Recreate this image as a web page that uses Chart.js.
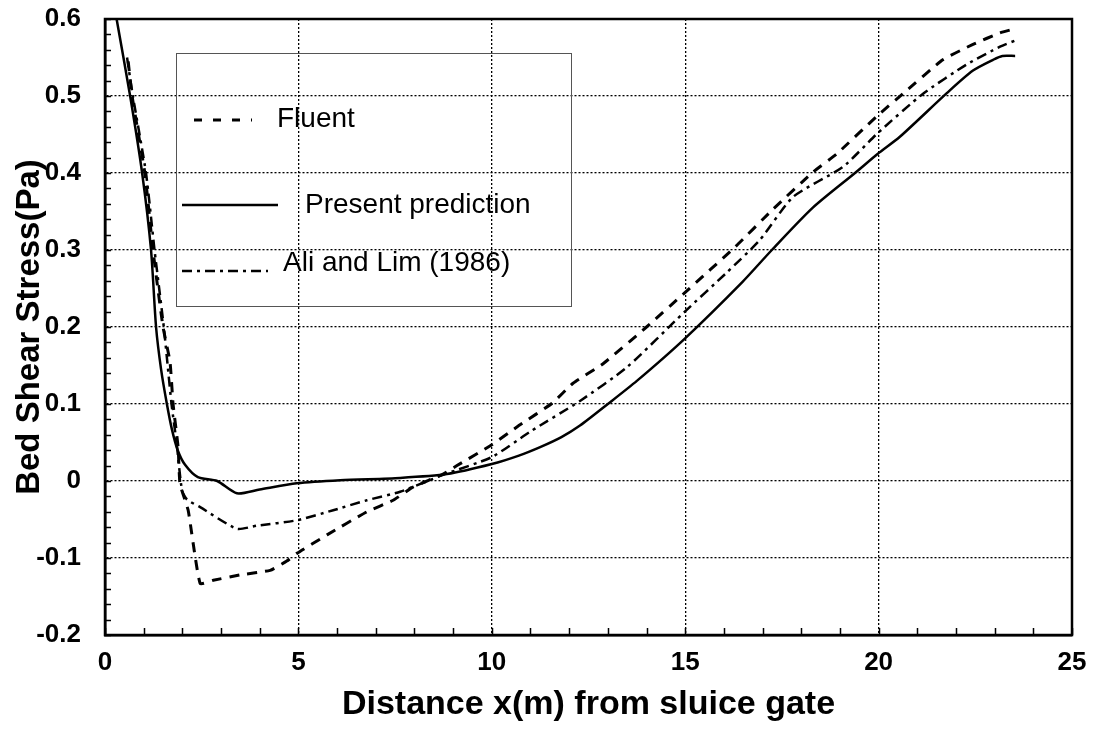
<!DOCTYPE html>
<html>
<head>
<meta charset="utf-8">
<script src="https://cdn.jsdelivr.net/npm/chart.js@4/dist/chart.umd.min.js"></script>
<style>
  html, body { margin: 0; padding: 0; background: #fff; }
  #wrap { width: 1096px; height: 731px; }
</style>
</head>
<body>
<div id="wrap"><canvas id="c" width="1096" height="731"></canvas></div>
<script>
// ---- data ----
const seriesNames = ["Fluent", "Present prediction", "Ali and Lim (1986)"];

const fluentX = [0.6, 0.7, 1.03, 1.24, 1.5, 1.68, 1.76, 1.89, 1.94, 2.15, 2.46, 2.8, 3.49, 4.27, 4.7, 4.96, 5.74, 6.77, 7.45, 7.96, 8.74, 9.1, 10.0, 10.73, 11.56, 12.1, 12.87, 14.0, 15.0, 16.29, 17.27, 18.3, 18.92, 19.96, 20.63, 21.66, 22.44, 23.14, 23.58];
const fluentY = [0.545, 0.5, 0.4, 0.3, 0.2, 0.155, 0.1, 0.044, -0.004, -0.038, -0.133, -0.129, -0.122, -0.116, -0.104, -0.094, -0.07, -0.04, -0.025, -0.008, 0.009, 0.02, 0.047, 0.073, 0.101, 0.127, 0.152, 0.2, 0.245, 0.304, 0.353, 0.401, 0.425, 0.474, 0.503, 0.547, 0.567, 0.582, 0.588];

const presentX = [0.3, 0.65, 0.96, 1.19, 1.32, 1.45, 1.6, 1.73, 1.88, 2.07, 2.4, 2.9, 3.41, 4.0, 4.96, 6.08, 7.63, 8.84, 10.0, 10.7, 11.25, 11.8, 12.28, 13.0, 13.75, 14.97, 16.47, 17.24, 18.3, 19.39, 19.98, 20.55, 21.77, 22.44, 22.96, 23.2, 23.53];
const presentY = [0.6, 0.5, 0.4, 0.3, 0.2, 0.145, 0.1, 0.067, 0.04, 0.021, 0.005, 0.0, -0.016, -0.011, -0.003, 0.001, 0.004, 0.009, 0.022, 0.033, 0.044, 0.057, 0.072, 0.1, 0.13, 0.184, 0.258, 0.3, 0.355, 0.4, 0.425, 0.447, 0.504, 0.533, 0.547, 0.552, 0.552];

const aliX = [0.57, 0.72, 1.06, 1.28, 1.52, 1.72, 1.85, 1.99, 2.12, 2.46, 3.41, 3.93, 4.96, 5.9, 6.77, 7.63, 8.74, 10.0, 10.99, 12.28, 13.5, 14.97, 16.08, 16.93, 17.79, 19.08, 19.96, 21.15, 22.28, 23.14, 23.58];
const aliY = [0.55, 0.5, 0.4, 0.3, 0.2, 0.1, 0.05, -0.012, -0.024, -0.034, -0.062, -0.058, -0.051, -0.038, -0.025, -0.014, 0.008, 0.031, 0.064, 0.104, 0.148, 0.219, 0.271, 0.313, 0.369, 0.408, 0.451, 0.503, 0.541, 0.564, 0.573];

const xTicks = [0, 5, 10, 15, 20, 25];
const yTicks = [-0.2, -0.1, 0, 0.1, 0.2, 0.3, 0.4, 0.5, 0.6];
const xTitle = "Distance x(m) from sluice gate";
const yTitle = "Bed Shear Stress(Pa)";

const pts = (xs, ys) => xs.map((x, i) => ({ x: x, y: ys[i] }));

const FONT = "'Liberation Sans', Arial, Helvetica, sans-serif";

// frame + minor ticks
const framePlugin = {
  id: 'frame',
  afterDatasetsDraw(chart) {
    const { ctx, chartArea: a, scales: { x, y } } = chart;
    ctx.save();
    ctx.strokeStyle = '#000';
    ctx.lineWidth = 1.5;
    ctx.beginPath();
    for (let k = 0; k <= 40; k++) {
      const py = Math.round(y.getPixelForValue(y.min + k * 0.02)) + 0.5;
      ctx.moveTo(a.left, py); ctx.lineTo(a.left + 6, py);
    }
    for (let k = 0; k <= 25; k++) {
      const px = Math.round(x.getPixelForValue(k)) + 0.5;
      ctx.moveTo(px, a.bottom); ctx.lineTo(px, a.bottom - 7);
    }
    ctx.stroke();
    ctx.lineWidth = 2.5;
    ctx.strokeRect(a.left, a.top, a.right - a.left, a.bottom - a.top);
    ctx.restore();
  }
};

// legend box inside plot (transparent, grid visible through it)
const legendPlugin = {
  id: 'boxLegend',
  afterDatasetsDraw(chart) {
    const { ctx } = chart;
    const rows = [
      { ds: 0, x1: 194, x2: 252, ly: 120, tx: 277, ty: 119, dash: [8, 11] },
      { ds: 1, x1: 182, x2: 278, ly: 205, tx: 305, ty: 205 },
      { ds: 2, x1: 182, x2: 268, ly: 271, tx: 283, ty: 263 }
    ];
    ctx.save();
    ctx.strokeStyle = '#555';
    ctx.lineWidth = 1;
    ctx.strokeRect(176.5, 53.5, 395, 253);
    rows.forEach(r => {
      const d = chart.data.datasets[r.ds];
      ctx.beginPath();
      ctx.strokeStyle = '#000';
      ctx.lineWidth = d.borderWidth;
      ctx.setLineDash(r.dash || d.borderDash || []);
      ctx.moveTo(r.x1, r.ly); ctx.lineTo(r.x2, r.ly);
      ctx.stroke();
      ctx.setLineDash([]);
      ctx.fillStyle = '#000';
      ctx.font = '28px ' + FONT;
      ctx.textBaseline = 'middle';
      ctx.textAlign = 'left';
      ctx.fillText(d.label, r.tx, r.ty);
    });
    ctx.restore();
  }
};

new Chart(document.getElementById('c'), {
  type: 'line',
  data: {
    datasets: [
      { label: seriesNames[0], data: pts(fluentX, fluentY), borderColor: '#000', borderWidth: 3, borderDash: [10, 8], pointRadius: 0, fill: false, tension: 0.15 },
      { label: seriesNames[1], data: pts(presentX, presentY), borderColor: '#000', borderWidth: 2.5, pointRadius: 0, fill: false, tension: 0.25 },
      { label: seriesNames[2], data: pts(aliX, aliY), borderColor: '#000', borderWidth: 2.5, borderDash: [10, 5, 3, 5], pointRadius: 0, fill: false, tension: 0.2 }
    ]
  },
  options: {
    responsive: false,
    animation: false,
    layout: { padding: { left: 0, right: 24, top: 19, bottom: 0 } },
    plugins: { legend: { display: false }, tooltip: { enabled: false } },
    scales: {
      x: {
        type: 'linear', min: 0, max: 25,
        afterFit: s => { s.height = 96; s.paddingLeft = 0; s.paddingRight = 0; },
        afterBuildTicks: s => { s.ticks = xTicks.map(v => ({ value: v })); },
        grid: { color: '#000', lineWidth: 1.3, drawTicks: false },
        border: { display: true, color: '#000', width: 2.5, dash: [2, 2] },
        ticks: { color: '#000', padding: 12, font: { family: FONT, size: 26, weight: 'bold' }, maxRotation: 0 },
        title: { display: true, text: xTitle, color: '#000', padding: { top: 0, bottom: 6 }, font: { family: FONT, size: 34, weight: 'bold' } }
      },
      y: {
        type: 'linear', min: -0.2, max: 0.6,
        afterFit: s => { s.width = 105; s.paddingTop = 0; s.paddingBottom = 0; },
        afterBuildTicks: s => { s.ticks = yTicks.map(v => ({ value: v })); },
        grid: { color: '#000', lineWidth: 1.3, drawTicks: false },
        border: { display: true, color: '#000', width: 2.5, dash: [2, 2] },
        ticks: { color: '#000', padding: 24, font: { family: FONT, size: 26, weight: 'bold' }, callback: v => String(Number(v.toFixed(1))) },
        title: { display: true, text: yTitle, color: '#000', padding: { top: 10, bottom: 0 }, font: { family: FONT, size: 33, weight: 'bold' } }
      }
    }
  },
  plugins: [framePlugin, legendPlugin]
});
</script>
</body>
</html>
